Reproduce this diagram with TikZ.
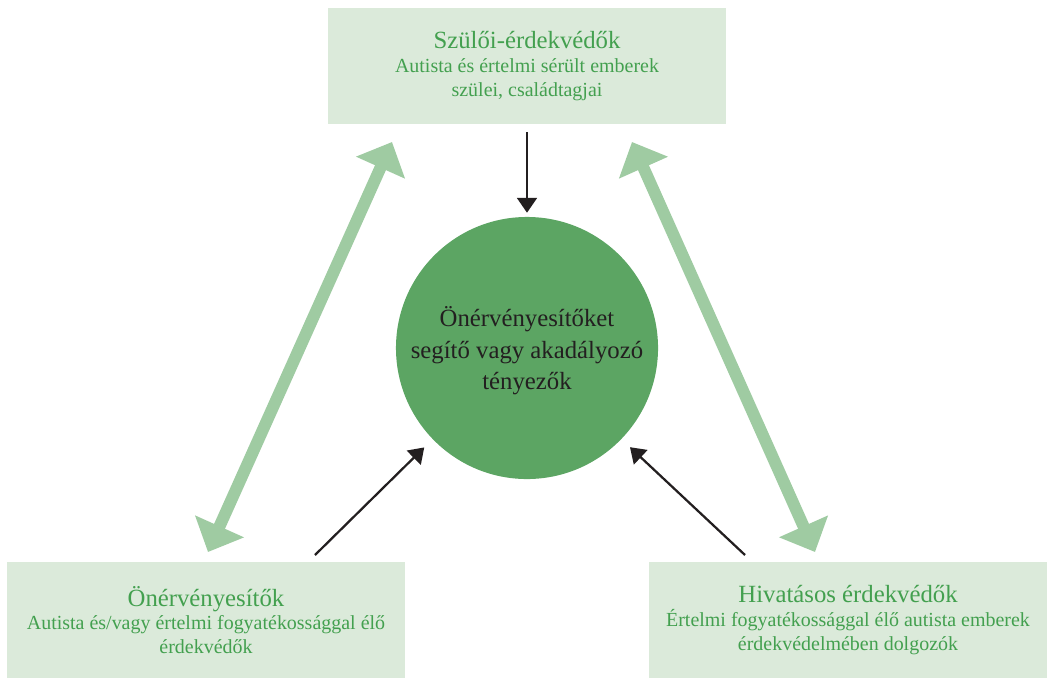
\documentclass[tikz,border=0pt]{standalone}
\usepackage{fontspec}
\setmainfont{Liberation Serif}
\usetikzlibrary{arrows.meta}
\definecolor{boxgreen}{HTML}{DBEADA}
\definecolor{txtgreen}{HTML}{43A04F}
\definecolor{midgreen}{HTML}{5CA563}
\definecolor{lightgreen}{HTML}{9FCBA2}
\definecolor{darktext}{HTML}{231F20}
\begin{document}
\begin{tikzpicture}[x=0.025cm,y=-0.025cm,line join=round,>={Triangle[width=14pt,length=10.5pt]}]
	\tikzset{every node/.style={inner sep=0pt,outer sep=0pt}}
	\tikzset{grpbox/.style={fill=boxgreen,minimum width=9.95cm,minimum height=2.92cm,align=center,text=txtgreen,font=\fontsize{14.2}{17}\selectfont}}
	\tikzset{bigarrow/.style={lightgreen,line width=8.5pt,{Triangle[width=37pt,length=20pt]}-{Triangle[width=37pt,length=20pt]}}}
	\tikzset{thinarrow/.style={->,line width=1.6pt,darktext}}
	\useasboundingbox (0,0) rectangle (1050,678);
	% boxes
	\node[grpbox] (szulo) at (527,66) {{\fontsize{17.6}{19}\selectfont Szülői-érdekvédők}\\Autista és értelmi sérült emberek\\szülei, családtagjai};
	\node[grpbox] (oner) at (206,620) {{\fontsize{17.6}{19}\selectfont Önérvényesítők}\\Autista és/vagy értelmi fogyatékossággal élő\\érdekvédők};
	\node[grpbox] (hivat) at (848,620) {{\fontsize{17.6}{19}\selectfont Hivatásos érdekvédők}\\Értelmi fogyatékossággal élő autista emberek\\érdekvédelmében dolgozók};
	% circle
	\node[circle,fill=midgreen,minimum size=6.55cm,align=center,text=darktext,font=\fontsize{17.6}{22.5}\selectfont] (kozep) at (527,348) {\\[-4pt]Önérvényesítőket\\segítő vagy akadályozó\\tényezők};
	% black arrows
	\coordinate (a1) at (527,132);
	\coordinate (a2) at (315,555);
	\coordinate (a3) at (745,555);
	\draw[thinarrow,shorten >=3pt] (a1)--(kozep.north);
	\draw[thinarrow,shorten >=8.5pt] (a2)--(kozep.224);
	\draw[thinarrow,shorten >=8.5pt] (a3)--(kozep.316);
	% light double arrows
	\coordinate (l1) at (392,142);
	\coordinate (l2) at (208,552);
	\coordinate (r1) at (632,142);
	\coordinate (r2) at (815,552);
	\draw[bigarrow] (l1)--(l2);
	\draw[bigarrow] (r1)--(r2);
\end{tikzpicture}
\end{document}
